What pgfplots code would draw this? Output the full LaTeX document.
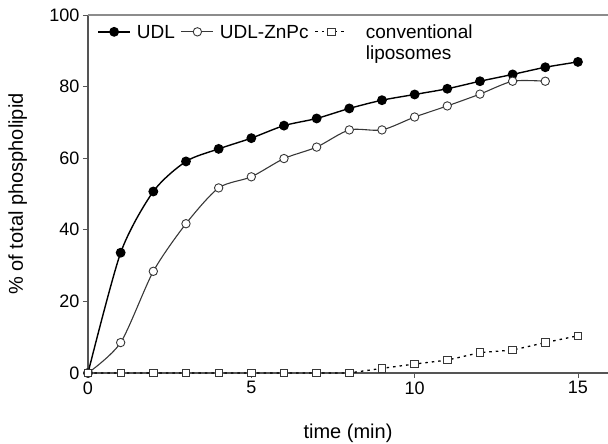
\documentclass[border=0pt]{standalone}
\usepackage{fontspec}
\setmainfont{Liberation Sans}
\usepackage{pgfplots}
\pgfplotsset{compat=1.18}
\definecolor{axgray}{RGB}{85,85,85}
\definecolor{topgray}{RGB}{140,140,140}
\definecolor{znpc}{RGB}{55,55,55}

\begin{document}
\begin{tikzpicture}
\useasboundingbox (-88pt,-71pt) rectangle (520pt,373pt);
\begin{axis}[
  at={(0pt,0pt)}, anchor=south west,
  scale only axis, width=520pt, height=358pt,
  xmin=0, xmax=15.92, ymin=0, ymax=100,
  axis x line*=bottom, axis y line*=left,
  axis line style={axgray, line width=1.1pt},
  xtick={0,5,10,15}, ytick={0,20,40,60,80,100},
  tick align=outside, major tick length=5pt,
  tick style={axgray, line width=0.9pt},
  /pgf/number format/assume math mode=true,
  ticklabel style={font=\fontsize{18}{21}\selectfont},
  xlabel={time (min)},
  ylabel={\% of total phospholipid},
  label style={font=\fontsize{20}{24}\selectfont},
  xlabel style={at={(axis description cs:0.5,-0.1816)}, anchor=base},
  ylabel style={at={(axis description cs:-0.135,0.5)}, anchor=center, rotate=0},
  clip=false,
  legend columns=3,
  legend cell align=left,
  legend style={draw=none, fill=none, at={(axis description cs:0.012,0.985)}, anchor=north west,
    column sep=4pt, font=\fontsize{19}{21}\selectfont,
    nodes={inner sep=2pt, anchor=base west}},
  legend image code/.code={\draw[mark repeat=2,mark phase=2,#1] plot coordinates {(0pt,6.5pt) (16pt,6.5pt) (32pt,6.5pt)};},
]
\draw[topgray, line width=1.1pt] (rel axis cs:0,1) -- (rel axis cs:1,1);

% UDL
\addplot[black, line width=1.4pt, smooth, tension=0.45, mark=*, mark size=4.2pt,
  mark options={solid, fill=black}] coordinates {
  (0,0) (1,33.6) (2,50.7) (3,59.1) (4,62.6) (5,65.6) (6,69.1) (7,71.1)
  (8,73.9) (9,76.2) (10,77.8) (11,79.4) (12,81.5) (13,83.4) (14,85.4) (15,86.9)};
\addlegendentry{UDL}

% UDL-ZnPc
\addplot[znpc, line width=1.1pt, smooth, tension=0.45, mark=*, mark size=4.2pt,
  mark options={solid, fill=white, draw=znpc, line width=0.9pt}] coordinates {
  (0,0) (1,8.5) (2,28.4) (3,41.7) (4,51.7) (5,54.8) (6,59.9) (7,63.1)
  (8,67.9) (9,67.9) (10,71.5) (11,74.6) (12,77.9) (13,81.5) (14,81.5)};
\addlegendentry{UDL-ZnPc}

% conventional liposomes
\addplot[black, line width=1.3pt, dash pattern=on 2.5pt off 4pt, mark=square*, mark size=3.7pt,
  mark options={solid, fill=white, draw=znpc, line width=0.9pt}] coordinates {
  (0,0) (1,0) (2,0) (3,0) (4,0) (5,0) (6,0) (7,0) (8,0)
  (9,1.3) (10,2.5) (11,3.6) (12,5.7) (13,6.4) (14,8.5) (15,10.4)};
\addlegendentry{\hspace*{12pt}\vtop{\hbox{conventional}\hbox{liposomes}}}
\end{axis}
\end{tikzpicture}
\end{document}
